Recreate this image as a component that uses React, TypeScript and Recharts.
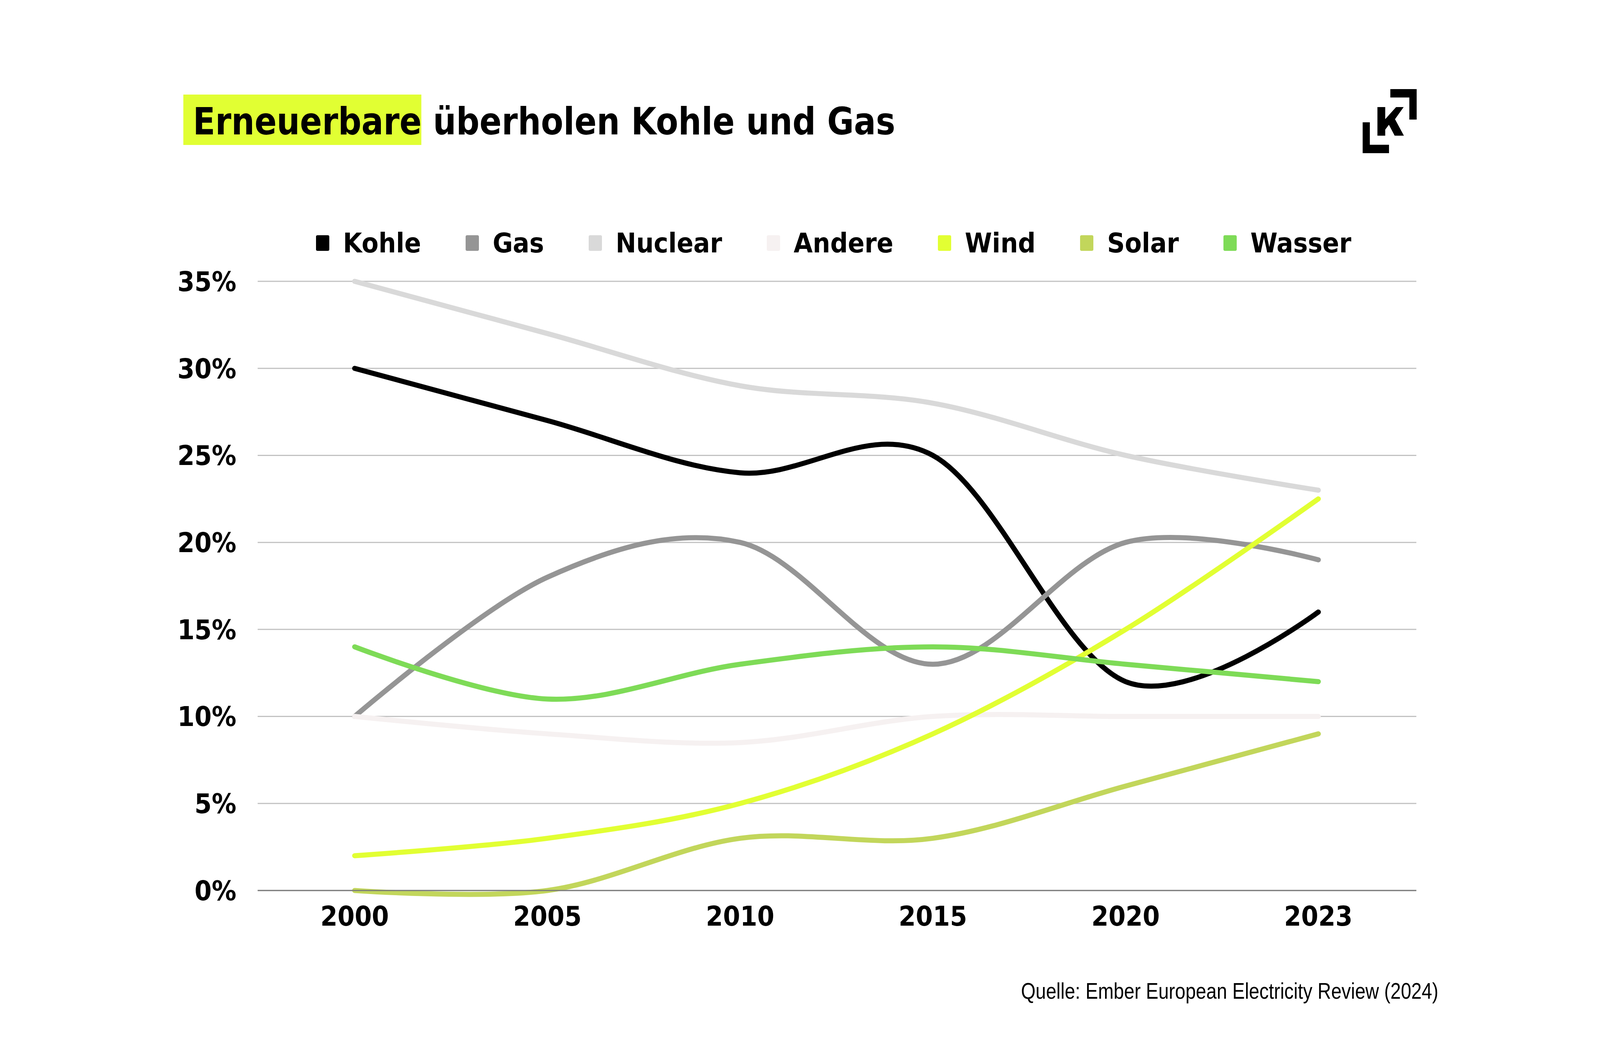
import React from 'react';
import { LineChart, Line, XAxis, YAxis, CartesianGrid, Legend } from 'recharts';

const years = ['2000', '2005', '2010', '2015', '2020', '2023'];
const kohle = [30, 27, 24, 25, 12, 16];
const gas = [10, 18, 20, 13, 20, 19];
const nuclear = [35, 32, 29, 28, 25, 23];
const andere = [10, 9, 8.5, 10, 10, 10];
const wind = [2, 3, 5, 9, 15, 22.5];
const solar = [0, 0, 3, 3, 6, 9];
const wasser = [14, 11, 13, 14, 13, 12];
const yTicks = [0, 5, 10, 15, 20, 25, 30, 35];

const seriesNames = ['Kohle', 'Gas', 'Nuclear', 'Andere', 'Wind', 'Solar', 'Wasser'];
const seriesValues = [kohle, gas, nuclear, andere, wind, solar, wasser];
const seriesColors = ['#000000', '#959595', '#d9d9d9', '#f6f1f1', '#e2ff33', '#c2d65b', '#7edb57'];

const TITLE = 'Erneuerbare überholen Kohle und Gas';
const SOURCE = 'Quelle: Ember European Electricity Review (2024)';

const data = years.map((y, i) => {
  const row: Record<string, string | number> = { year: y };
  seriesNames.forEach((n, k) => {
    row[n] = seriesValues[k][i];
  });
  return row;
});

// Cardinal spline (tension 0, i.e. Catmull-Rom) curve factory for the Line's `type`.
class CardinalCurve {
  _context: any;
  _k = 1 / 6;
  _line: number = NaN;
  _point = 0;
  _x0 = NaN; _x1 = NaN; _x2 = NaN;
  _y0 = NaN; _y1 = NaN; _y2 = NaN;
  constructor(context: any) {
    this._context = context;
  }
  areaStart() { this._line = 0; }
  areaEnd() { this._line = NaN; }
  lineStart() {
    this._x0 = this._x1 = this._x2 = this._y0 = this._y1 = this._y2 = NaN;
    this._point = 0;
  }
  _bez(x: number, y: number) {
    const k = this._k;
    this._context.bezierCurveTo(
      this._x1 + k * (this._x2 - this._x0),
      this._y1 + k * (this._y2 - this._y0),
      this._x2 + k * (this._x1 - x),
      this._y2 + k * (this._y1 - y),
      this._x2,
      this._y2
    );
  }
  lineEnd() {
    switch (this._point) {
      case 2: this._context.lineTo(this._x2, this._y2); break;
      case 3: this._bez(this._x1, this._y1); break;
    }
    if (this._line || (this._line !== 0 && this._point === 1)) this._context.closePath();
    this._line = 1 - this._line;
  }
  point(xv: number, yv: number) {
    const x = +xv, y = +yv;
    switch (this._point) {
      case 0:
        this._point = 1;
        if (this._line) this._context.lineTo(x, y); else this._context.moveTo(x, y);
        break;
      case 1:
        this._point = 2;
        this._x1 = x; this._y1 = y;
        break;
      case 2:
        this._point = 3;
        this._bez(x, y);
        break;
      default:
        this._bez(x, y);
        break;
    }
    this._x0 = this._x1; this._x1 = this._x2; this._x2 = x;
    this._y0 = this._y1; this._y1 = this._y2; this._y2 = y;
  }
}
const smoothCurve: any = (context: any) => new CardinalCurve(context);

// The page may be narrower than 4800px; lay the design out horizontally to fit.
const VW = Math.min(typeof window !== 'undefined' && window.innerWidth ? window.innerWidth : 4800, 4800);
const K = VW / 4800;
const NARROW = K < 0.95;
const sx = (x: number) => x * K;

const BOLD = NARROW ? "'DejaVu Sans Condensed', 'DejaVu Sans', sans-serif" : "'DejaVu Sans', sans-serif";
const tickStyle = {
  fontFamily: BOLD,
  fontWeight: 700,
  fontSize: 70,
  fill: '#000',
  fontStretch: NARROW ? 'condensed' : 'normal',
};

const renderLegend = (props: any) => {
  const payload = [...(props.payload || [])].sort(
    (a: any, b: any) => seriesNames.indexOf(a.value) - seriesNames.indexOf(b.value)
  );
  return (
    <div style={{ display: 'flex', alignItems: 'center', gap: NARROW ? 114 : 146, whiteSpace: 'nowrap' }}>
      {payload.map((e: any) => (
        <div key={e.value} style={{ display: 'flex', alignItems: 'center', height: 70 }}>
          <span
            style={{
              display: 'inline-block',
              width: sx(40),
              height: 40,
              background: e.color,
              borderRadius: 4,
              marginRight: sx(41),
            }}
          />
          <span
            style={{
              fontFamily: BOLD,
              fontWeight: 700,
              fontSize: 70,
              lineHeight: '70px',
              color: '#000',
              fontStretch: NARROW ? 'condensed' : 'normal',
            }}
          >
            {e.value}
          </span>
        </div>
      ))}
    </div>
  );
};

export default function App() {
  return (
    <div style={{ position: 'absolute', left: 0, top: 0, width: VW, height: 2700, background: '#ffffff' }}>
      <LineChart
        width={VW}
        height={2700}
        data={data}
        margin={{ top: 720, right: sx(551), left: sx(773) - 200, bottom: 301 }}
      >
        <CartesianGrid horizontal vertical={false} stroke="#c2c2c2" strokeWidth={3} />
        <XAxis
          dataKey="year"
          height={120}
          padding={{ left: sx(291), right: sx(294) }}
          axisLine={{ stroke: '#7a7a7a', strokeWidth: 3 }}
          tickLine={false}
          tickSize={0}
          tickMargin={40}
          tick={tickStyle}
          interval={0}
        />
        <YAxis
          width={200}
          domain={[0, 35]}
          ticks={yTicks}
          tickFormatter={(v: number) => `${v}%`}
          axisLine={false}
          tickLine={false}
          tickSize={0}
          tickMargin={sx(64)}
          tick={tickStyle}
          interval={0}
        />
        <Legend
          layout="horizontal"
          verticalAlign="middle"
          align="center"
          content={renderLegend}
          wrapperStyle={{ left: sx(948), top: 587, width: sx(3400), height: 70 }}
        />
        {seriesNames.map((n, k) => (
          <Line
            key={n}
            dataKey={n}
            name={n}
            type={smoothCurve}
            stroke={seriesColors[k]}
            strokeWidth={13}
            strokeLinecap="round"
            dot={false}
            activeDot={false}
            isAnimationActive={false}
          />
        ))}
      </LineChart>
      <svg width={VW} height={2700} style={{ position: 'absolute', left: 0, top: 0, pointerEvents: 'none' }}>
        <rect x={sx(550)} y={242} width={sx(714)} height={129} fill="#e1ff33" />
        <text
          x={sx(579)}
          y={344}
          fontFamily={BOLD}
          fontWeight={700}
          fontSize={97}
          fill="#000"
          textLength={sx(2107)}
          lengthAdjust="spacingAndGlyphs"
        >
          {TITLE}
        </text>
        <g transform={`scale(${K},1)`}>
          <polygon points="4171,228 4250,228 4250,306 4228,306 4228,249.5 4171,249.5" fill="#000" />
          <polygon points="4088,313 4109.5,313 4109.5,370.5 4167,370.5 4167,392 4088,392" fill="#000" />
          <polygon
            points="4132.3,274 4155.7,274 4155.7,305 4188.3,274 4211,274 4185,305 4211.7,347.3 4184,347.3 4166.7,319.3 4155.7,331.7 4155.7,347.3 4132.3,347.3"
            fill="#000"
          />
        </g>
        <text
          x={sx(3063)}
          y={2556}
          fontFamily="'Liberation Sans', Arial, sans-serif"
          fontSize={58}
          fill="#000"
          textLength={sx(1252)}
          lengthAdjust="spacingAndGlyphs"
        >
          {SOURCE}
        </text>
      </svg>
    </div>
  );
}
